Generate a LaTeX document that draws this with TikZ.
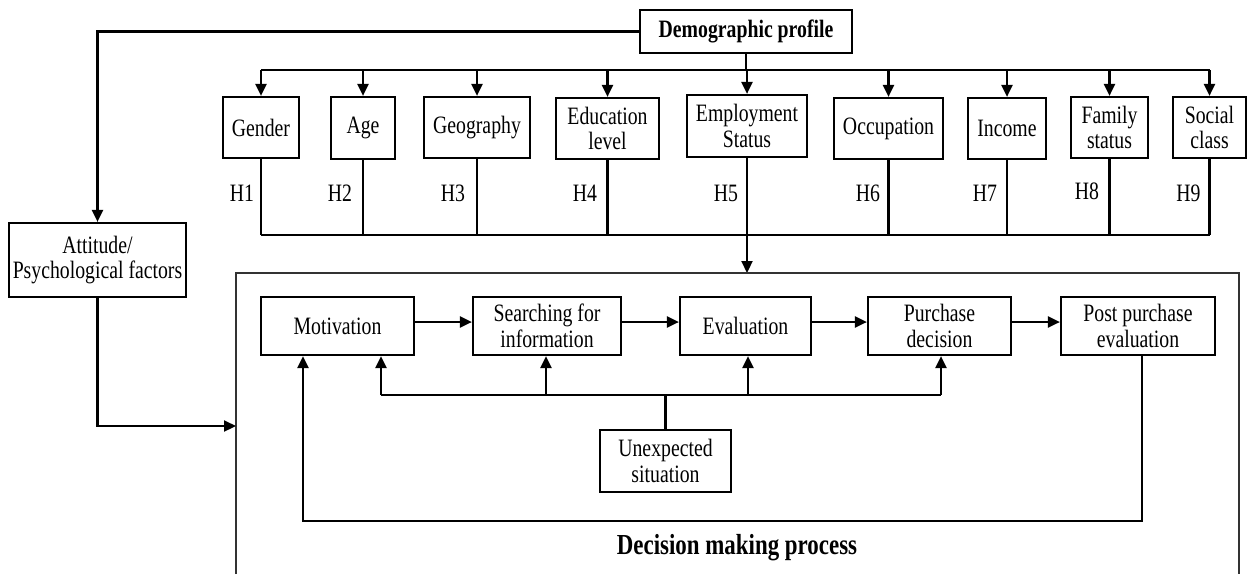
\documentclass[tikz,border=0pt]{standalone}
\usepackage{fontspec}
\setmainfont{Liberation Serif}[FakeStretch=0.79]
\usetikzlibrary{arrows.meta}
\begin{document}
\begin{tikzpicture}[x=1pt,y=-1pt,
  every node/.style={font=\fontsize{25}{25.7}\selectfont},
  box/.style={draw, line width=2.2pt, align=center, inner sep=0pt},
  ln/.style={line width=2.2pt},
  arr/.style={line width=2.2pt, -{Triangle[length=12pt,width=11pt]}},
  hlab/.style={inner sep=0pt}]
\useasboundingbox (0,0) rectangle (1247,574);

% demographic block
\node[box, minimum width=212pt, minimum height=43pt] (demo) at (746,31.5) {\textbf{Demographic profile}};
\node[box, minimum width=177pt, minimum height=74pt] (att) at (97.5,260) {Attitude/\\Psychological factors};

\node[box, minimum width=76pt,  minimum height=61pt] (gender) at (261,127.5) {Gender};
\node[box, minimum width=64pt,  minimum height=62pt] (age)    at (363,128) {Age};
\node[box, minimum width=106pt, minimum height=61pt] (geo)    at (477,127.5) {Geography};
\node[box, minimum width=103pt, minimum height=61pt] (edu)    at (607.5,128.5) {Education\\level};
\node[box, minimum width=120pt, minimum height=62pt] (emp)    at (747,126) {Employment\\Status};
\node[box, minimum width=109pt, minimum height=61pt] (occ)    at (888.5,128.5) {Occupation};
\node[box, minimum width=78pt,  minimum height=61pt] (inc)    at (1007,128.5) {Income};
\node[box, minimum width=77pt,  minimum height=61pt] (fam)    at (1109.5,127.5) {Family\\status};
\node[box, minimum width=73pt,  minimum height=61pt] (soc)    at (1209.5,127.5) {Social\\class};

% hypothesis labels
\node[hlab] (h1) at (242,193.5) {H1};
\node[hlab] (h2) at (340,193.5) {H2};
\node[hlab] (h3) at (453,193.5) {H3};
\node[hlab] (h4) at (585,193.5) {H4};
\node[hlab] (h5) at (726,193.5) {H5};
\node[hlab] (h6) at (868,193.5) {H6};
\node[hlab] (h7) at (985,193.5) {H7};
\node[hlab] (h8) at (1087,191) {H8};
\node[hlab] (h9) at (1188.5,193.5) {H9};

% bus coordinates
\coordinate (tbus) at (746,70);
\coordinate (bbus) at (746,235);
\coordinate (ftop) at (746,273);
\coordinate (fin)  at (236,426);

% demographic profile -> attitude
\draw[arr] (demo.west) -| (att.north);
% demographic profile -> factors
\draw[ln] (demo.south) -- (demo.south |- tbus);
\draw[ln] (gender.north |- tbus) -- (soc.north |- tbus);
\foreach \n in {gender,age,geo,edu,emp,occ,inc,fam,soc}
  \draw[arr] (\n.north |- tbus) -- (\n.north);
% factors -> lower bus
\foreach \n in {gender,age,geo,edu,occ,inc,fam,soc}
  \draw[ln] (\n.south) -- (\n.south |- bbus);
\draw[ln] (gender.south |- bbus) -- (soc.south |- bbus);
\draw[arr] (emp.south) -- (emp.south |- ftop);

% decision making frame
\draw[line width=1.7pt, black!80] (236,574) -- (236,273) -- (1239,273) -- (1239,574);
\draw[arr] (att.south) |- (fin);

% decision process
\node[box, minimum width=153pt, minimum height=58pt] (mot)   at (337.5,326) {Motivation};
\node[box, minimum width=148pt, minimum height=58pt] (srch)  at (547,326) {Searching for\\information};
\node[box, minimum width=131pt, minimum height=58pt] (eval)  at (745.5,326) {Evaluation};
\node[box, minimum width=143pt, minimum height=58pt] (purch) at (939.5,326) {Purchase\\decision};
\node[box, minimum width=154pt, minimum height=58pt] (post)  at (1138,326) {Post purchase\\evaluation};
\node[box, minimum width=131pt, minimum height=62pt] (unexp) at (665.5,461) {Unexpected\\situation};

\draw[arr] ([yshift=4pt]mot.east)   -- ([yshift=4pt]srch.west);
\draw[arr] ([yshift=4pt]srch.east)  -- ([yshift=4pt]eval.west);
\draw[arr] ([yshift=4pt]eval.east)  -- ([yshift=4pt]purch.west);
\draw[arr] ([yshift=4pt]purch.east) -- ([yshift=4pt]post.west);

% unexpected situation feeds back into the stages
\coordinate (u1) at (381,395);
\coordinate (u2) at (546,395);
\coordinate (u3) at (748,395);
\coordinate (u4) at (941,395);
\draw[ln] (unexp.north) -- (unexp.north |- u1);
\draw[ln] (u1) -- (u4);
\draw[arr] (u1) -- (u1 |- mot.south);
\draw[arr] (u2) -- (u2 |- srch.south);
\draw[arr] (u3) -- (u3 |- eval.south);
\draw[arr] (u4) -- (u4 |- purch.south);

% post purchase loop back to motivation
\coordinate (lp1) at (1142,521);
\coordinate (lp2) at (303,521);
\draw[arr] (post.south -| lp1) -- (lp1) -- (lp2) -- (lp2 |- mot.south);

\node[inner sep=0pt, font=\fontsize{29}{30}\selectfont] (dmp) at (737,548) {\textbf{Decision making process}};
\end{tikzpicture}
\end{document}
